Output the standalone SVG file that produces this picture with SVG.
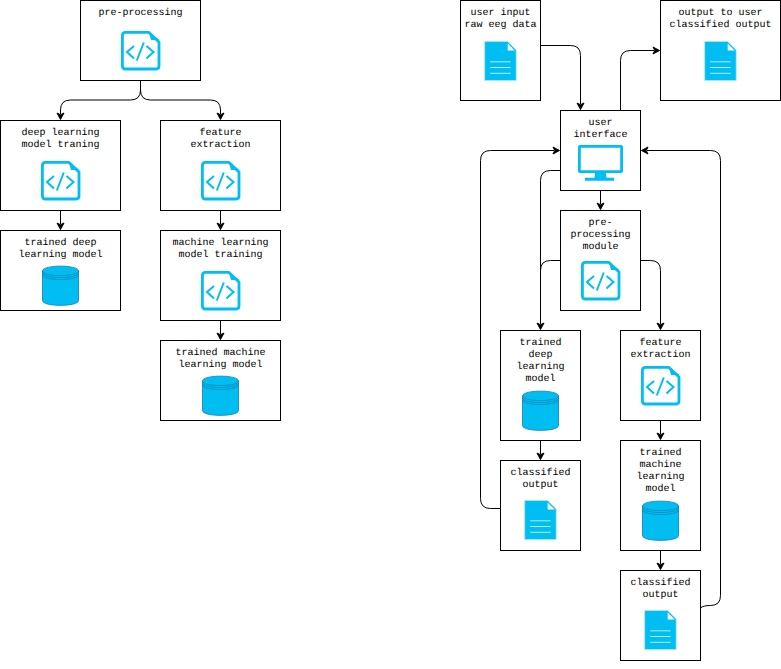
<svg xmlns="http://www.w3.org/2000/svg" xmlns:xlink="http://www.w3.org/1999/xlink" width="781" height="669" viewBox="0 0 781 669">
<style>
.box{fill:#fff;stroke:#000;stroke-width:1}
.c{fill:none;stroke:#000;stroke-width:1}
.a{fill:#000;stroke:#000;stroke-width:1;stroke-miterlimit:10}
text{font-family:"Liberation Mono","Courier New",monospace;font-size:10px;text-anchor:middle;fill:#000;text-rendering:geometricPrecision}
</style>
<defs>
<path id="ah" class="a" d="M0,-0.500 L3.500,-7 L0,-5.250 L-3.500,-7 Z"/>
<g id="code">
<path d="M4,1.400 H28 L38,11 V35 Q38,38 35,38 H4.300 Q1.400,38 1.400,35 V4.300 Q1.400,1.400 4.300,1.400 Z" fill="#fff" stroke="#00bef2" stroke-width="2.800" stroke-linejoin="round"/>
<path d="M28,1.400 L30,9 H38.500 Z" fill="#00bef2"/>
<path d="M13,15 L6,21 L13,27.500 M25.500,15 L32.500,21 L25.500,27.500 M22.800,11.500 L15.800,29.500" fill="none" stroke="#00bef2" stroke-width="2"/>
</g>
<g id="doc">
<path d="M0,0 H23 L31.500,8.500 V39 H0 Z" fill="#00bef2" stroke="#aeeafb" stroke-width="0.700"/>
<path d="M23,2 L30,9 H23 Z" fill="#fff"/>
<path d="M5.500,20.300 H26 M5.500,26 H26 M5.500,31.800 H26" stroke="#dff7fe" stroke-width="0.800" fill="none"/>
</g>
<g id="cyl">
<path d="M0,5 C0,-1.500 36,-1.500 36,5 V34.500 C36,41 0,41 0,34.500 Z" fill="#00bef2" stroke="#0a7fb5" stroke-width="0.800"/>
<path d="M0,5 C0,11 36,11 36,5 M0,7 C0,13 36,13 36,7 M0,9 C0,15 36,15 36,9" fill="none" stroke="#0a7fb5" stroke-width="0.700"/>
</g>
<g id="mon">
<path d="M2,0 H43 Q45,0 45,2 V26 Q45,28 43,28 H2 Q0,28 0,26 V2 Q0,0 2,0 Z M2.800,2.800 V25.200 H42.200 V2.800 Z" fill="#00bef2" fill-rule="evenodd"/>
<path d="M17,28 H28 L28.500,32.700 H36 V35.700 H7 V32.700 H16.500 Z" fill="#00bef2"/>
</g>
</defs>
<g id="connectors">
<path class="c" d="M140.500,80 V90 Q140.500,100 130.500,100 H70.500 Q60.500,100 60.500,110 V114"/><use xlink:href="#ah" transform="translate(60.500,120)"/>
<path class="c" d="M140.500,90 Q140.500,100 150.500,100 H210.500 Q220.500,100 220.500,110 V114"/><use xlink:href="#ah" transform="translate(220.500,120)"/>
<path class="c" d="M60.500,210 V224"/><use xlink:href="#ah" transform="translate(60.500,230)"/>
<path class="c" d="M220.500,210 V224"/><use xlink:href="#ah" transform="translate(220.500,230)"/>
<path class="c" d="M220.500,320 V334"/><use xlink:href="#ah" transform="translate(220.500,340)"/>
<path class="c" d="M540,45.500 H570.500 Q580.500,45.500 580.500,55.500 V104"/><use xlink:href="#ah" transform="translate(580.500,110)"/>
<path class="c" d="M620.500,110 V60.500 Q620.500,50.500 630.500,50.500 H654"/><use xlink:href="#ah" transform="translate(660,50.500) rotate(-90)"/>
<path class="c" d="M600.500,190 V204"/><use xlink:href="#ah" transform="translate(600.500,210)"/>
<path class="c" d="M560,170.500 H550.500 Q540.500,170.500 540.500,180.500 V324"/><use xlink:href="#ah" transform="translate(540.500,330)"/>
<path class="c" d="M560,260.500 H550.500 Q540.500,260.500 540.500,270.500"/>
<path class="c" d="M640,260.500 H650.500 Q660.500,260.500 660.500,270.500 V324"/><use xlink:href="#ah" transform="translate(660.500,330)"/>
<path class="c" d="M660.500,420 V434"/><use xlink:href="#ah" transform="translate(660.500,440)"/>
<path class="c" d="M540.500,440 V454"/><use xlink:href="#ah" transform="translate(540.500,460)"/>
<path class="c" d="M660.500,550 V564"/><use xlink:href="#ah" transform="translate(660.500,570)"/>
<path class="c" d="M500,508.500 H490.500 Q480.500,508.500 480.500,498.500 V160.500 Q480.500,150.500 490.500,150.500 H554"/><use xlink:href="#ah" transform="translate(560,150.500) rotate(-90)"/>
<path class="c" d="M700.500,608 Q703,605.500 710.500,605.500 Q720.500,605.500 720.500,595.500 V160.500 Q720.500,150.500 710.500,150.500 H647"/><use xlink:href="#ah" transform="translate(641,150.500) rotate(90)"/>
</g>
<g id="n-preprocessing"><rect class="box" x="80.500" y="0.500" width="120" height="80"/><text x="140.500" y="15">pre-processing</text><use xlink:href="#code" x="121" y="31"/></g>
<g id="n-deep-training"><rect class="box" x="0.500" y="120.500" width="120" height="90"/><text x="60.500" y="135">deep learning</text><text x="60.500" y="147">model traning</text><use xlink:href="#code" x="41" y="161"/></g>
<g id="n-feature-a"><rect class="box" x="160.500" y="120.500" width="120" height="90"/><text x="220.500" y="135">feature</text><text x="220.500" y="147">extraction</text><use xlink:href="#code" x="201" y="161"/></g>
<g id="n-trained-deep-a"><rect class="box" x="0.500" y="230.500" width="120" height="80"/><text x="60.500" y="245">trained deep</text><text x="60.500" y="257">learning model</text><use xlink:href="#cyl" x="42.500" y="266"/></g>
<g id="n-ml-training"><rect class="box" x="160.500" y="230.500" width="120" height="90"/><text x="220.500" y="245">machine learning</text><text x="220.500" y="257">model training</text><use xlink:href="#code" x="201" y="271"/></g>
<g id="n-trained-ml-a"><rect class="box" x="160.500" y="340.500" width="120" height="80"/><text x="220.500" y="355">trained machine</text><text x="220.500" y="367">learning model</text><use xlink:href="#cyl" x="202.500" y="376"/></g>
<g id="n-user-input"><rect class="box" x="460.500" y="0.500" width="80" height="100"/><text x="500.500" y="15">user input</text><text x="500.500" y="27">raw eeg data</text><use xlink:href="#doc" x="484.700" y="41.500"/></g>
<g id="n-output"><rect class="box" x="660.500" y="0.500" width="120" height="100"/><text x="720.500" y="15">output to user</text><text x="720.500" y="27">classified output</text><use xlink:href="#doc" x="704.700" y="41.500"/></g>
<g id="n-ui"><rect class="box" x="560.500" y="110.500" width="80" height="80"/><text x="600.500" y="125">user</text><text x="600.500" y="137">interface</text><use xlink:href="#mon" x="578" y="145"/></g>
<g id="n-pre-module"><rect class="box" x="560.500" y="210.500" width="80" height="100"/><text x="600.500" y="225">pre-</text><text x="600.500" y="237">processing</text><text x="600.500" y="249">module</text><use xlink:href="#code" x="581" y="261"/></g>
<g id="n-trained-deep-b"><rect class="box" x="500.500" y="330.500" width="80" height="110"/><text x="540.500" y="345">trained</text><text x="540.500" y="357">deep</text><text x="540.500" y="369">learning</text><text x="540.500" y="381">model</text><use xlink:href="#cyl" x="522.500" y="391"/></g>
<g id="n-feature-b"><rect class="box" x="620.500" y="330.500" width="80" height="90"/><text x="660.500" y="345">feature</text><text x="660.500" y="357">extraction</text><use xlink:href="#code" x="641" y="366"/></g>
<g id="n-classified-a"><rect class="box" x="500.500" y="460.500" width="80" height="90"/><text x="540.500" y="475">classified</text><text x="540.500" y="487">output</text><use xlink:href="#doc" x="524.700" y="500.500"/></g>
<g id="n-trained-ml-b"><rect class="box" x="620.500" y="440.500" width="80" height="110"/><text x="660.500" y="455">trained</text><text x="660.500" y="467">machine</text><text x="660.500" y="479">learning</text><text x="660.500" y="491">model</text><use xlink:href="#cyl" x="642.500" y="501"/></g>
<g id="n-classified-b"><rect class="box" x="620.500" y="570.500" width="80" height="90"/><text x="660.500" y="585">classified</text><text x="660.500" y="597">output</text><use xlink:href="#doc" x="644.700" y="610.500"/></g>
</svg>
